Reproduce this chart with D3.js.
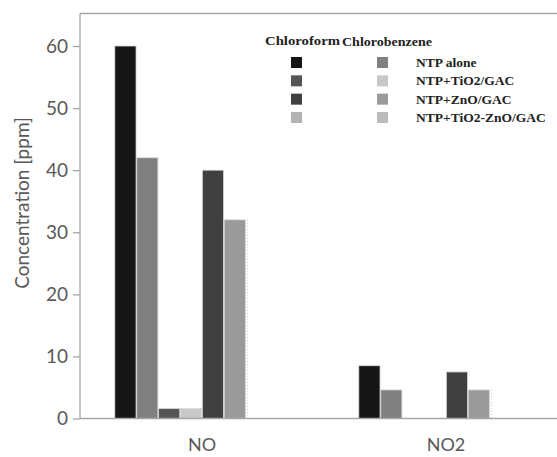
<!DOCTYPE html>
<html><head><meta charset="utf-8">
<script src="https://cdn.jsdelivr.net/npm/d3@7"></script>
<style>body{margin:0;background:#fff}svg{display:block}</style>
</head><body>
<script>
const categories = ["NO", "NO2"];
const compounds = ["Chloroform", "Chlorobenzene"];
const treatments = ["NTP alone", "NTP+TiO2/GAC", "NTP+ZnO/GAC", "NTP+TiO2-ZnO/GAC"];
// series order: interleaved chloroform / chlorobenzene per treatment
const seriesNames = ["Chloroform NTP alone","Chlorobenzene NTP alone","Chloroform NTP+TiO2/GAC","Chlorobenzene NTP+TiO2/GAC","Chloroform NTP+ZnO/GAC","Chlorobenzene NTP+ZnO/GAC","Chloroform NTP+TiO2-ZnO/GAC","Chlorobenzene NTP+TiO2-ZnO/GAC"];
const valuesNO  = [60, 42, 1.6, 1.6, 40, 32, 0, 0];
const valuesNO2 = [8.5, 4.6, 0, 0, 7.5, 4.6, 0, 0];
const seriesColors = ["#161616","#808080","#555555","#c8c8c8","#404040","#9a9a9a","#b3b3b3","#bbbbbb"];
const yTicks = [0, 10, 20, 30, 40, 50, 60];

const W = 557, H = 457;
const svg = d3.select("body").append("svg").attr("width", W).attr("height", H);

const x0 = d3.scaleBand().domain(categories).range([80, 568]).paddingInner(0.28).paddingOuter(0.14);
const x1 = d3.scaleBand().domain(d3.range(seriesNames.length)).range([0, x0.bandwidth()]).padding(0.03);
const y = d3.scaleLinear().domain([0, 60]).range([418.5, 46]);

const data = [valuesNO, valuesNO2];

// frame top line
svg.append("line").attr("x1", 80).attr("x2", W).attr("y1", 13.5).attr("y2", 13.5)
  .attr("stroke", "#a6a6a6").attr("stroke-width", 1.3);

// bars
const g = svg.append("g");
categories.forEach((c, ci) => {
  data[ci].forEach((v, si) => {
    if (v <= 0) return;
    g.append("rect")
      .attr("x", x0(c) + x1(si))
      .attr("y", y(v))
      .attr("width", x1.bandwidth())
      .attr("height", y(0) - y(v))
      .attr("fill", seriesColors[si])
      .attr("stroke", "#d9d9d9").attr("stroke-width", 0.8);
  });
  // faint dotted marker beside last visible bar
  const v = data[ci][5];
  const xx = x0(c) + x1(5) + x1.bandwidth() + 2;
  g.append("line").attr("x1", xx).attr("x2", xx).attr("y1", y(v)).attr("y2", y(0) + 1)
    .attr("stroke", "#c8c8c8").attr("stroke-width", 1).attr("stroke-dasharray", "1,2");
});

// y axis
const yAxis = d3.axisLeft(y).tickValues(yTicks).tickSize(7).tickPadding(5);
const ya = svg.append("g").attr("transform", "translate(80,0)").call(yAxis);
ya.select(".domain").attr("d", `M0,13.5V${y(0)}`).attr("stroke", "#a6a6a6").attr("stroke-width", 1.3);
ya.selectAll(".tick line").attr("stroke", "#a6a6a6").attr("stroke-width", 1.3);
ya.selectAll(".tick text").attr("fill", "#595959").style("font-family", "Lato, 'Open Sans', sans-serif").style("font-size", "19px");

// x axis
const xa = svg.append("g").attr("transform", `translate(0,${y(0)})`).call(d3.axisBottom(x0).tickSize(0).tickPadding(20));
xa.select(".domain").attr("d", `M80,0H${W}`).attr("stroke", "#a6a6a6").attr("stroke-width", 1.3);
xa.selectAll(".tick text").attr("fill", "#595959").style("font-family", "Lato, 'Open Sans', sans-serif").style("font-size", "18px");

// y title
svg.append("text").attr("transform", "translate(29,203) rotate(-90)")
  .attr("text-anchor", "middle").attr("fill", "#595959")
  .style("font-family", "Lato, 'Open Sans', sans-serif").style("font-size", "19px")
  .text("Concentration [ppm]");

// legend
const leg = svg.append("g").style("font-family", "'Liberation Serif', 'Times New Roman', serif").style("font-weight", "bold");
leg.append("text").attr("x", 265).attr("y", 45).attr("fill", "#222").style("font-size", "13px")
  .attr("textLength", 75).attr("lengthAdjust", "spacingAndGlyphs").text(compounds[0]);
leg.append("text").attr("x", 342).attr("y", 46).attr("fill", "#222").style("font-size", "13px")
  .attr("textLength", 90).attr("lengthAdjust", "spacingAndGlyphs").text(compounds[1]);
const rowY = d3.scaleLinear().domain([0, 3]).range([57, 112]);
treatments.forEach((t, i) => {
  leg.append("rect").attr("x", 291).attr("y", rowY(i)).attr("width", 11).attr("height", 11).attr("fill", seriesColors[2 * i]);
  leg.append("rect").attr("x", 377).attr("y", rowY(i)).attr("width", 11).attr("height", 11).attr("fill", seriesColors[2 * i + 1]);
  leg.append("text").attr("x", 416).attr("y", rowY(i) + 10).attr("fill", "#222").style("font-size", "13.5px")
    .text(t);
});
</script>
</body></html>
